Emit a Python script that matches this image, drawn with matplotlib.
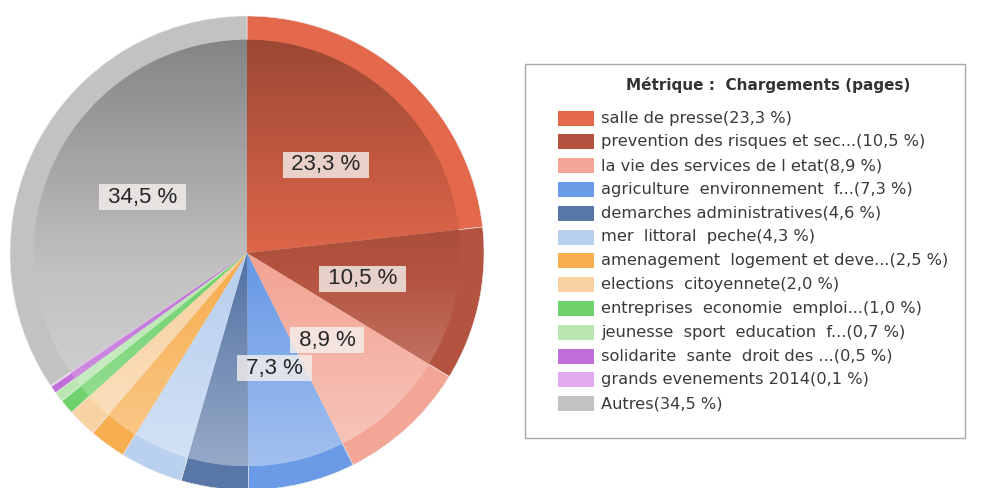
import matplotlib.pyplot as plt
from matplotlib.patches import Rectangle, Circle
import numpy as np

plt.rcParams['font.family'] = ['Liberation Sans', 'DejaVu Sans']

# data
labels = ["salle de presse", "prevention des risques et sec...", "la vie des services de l etat",
          "agriculture  environnement  f...", "demarches administratives", "mer  littoral  peche",
          "amenagement  logement et deve...", "elections  citoyennete", "entreprises  economie  emploi...",
          "jeunesse  sport  education  f...", "solidarite  sante  droit des ...", "grands evenements 2014",
          "Autres"]
values = [23.3, 10.5, 8.9, 7.3, 4.6, 4.3, 2.5, 2.0, 1.0, 0.7, 0.5, 0.1, 34.5]
colors = ["#e4694c", "#b4533f", "#f3a696", "#6b9be6", "#5876a6", "#b9d0ef",
          "#f7ae4f", "#f8d2a2", "#6fd26c", "#b9e6b1", "#c06fd8", "#e2aaef", "#c2c2c2"]
title = "Métrique :  Chargements (pages)"


def pct(v):
    return f"{v:.1f}".replace(".", ",") + " %"


fig = plt.figure(figsize=(9.9, 4.88), dpi=100)
ax = fig.add_axes([0, 0, 1, 1])

cx, cy, r = 247, 488 - 253, 237

# outer rim
ax.pie(values, colors=colors, startangle=90, counterclock=False,
       center=(cx, cy), radius=r, frame=True,
       wedgeprops=dict(edgecolor="#eeeeee", linewidth=0.4))
# inner part
ax.pie(values, colors=colors, startangle=90, counterclock=False,
       center=(cx, cy), radius=r * 0.9, frame=True,
       wedgeprops=dict(edgecolor="none", linewidth=0))

# vertical shading over the inner disc: darker on top, lighter at bottom
n = 256
t = np.linspace(0, 1, n)[:, None]  # 0 = top, 1 = bottom
grad = np.zeros((n, 2, 4))
dark = np.clip(0.32 * (0.55 - t) / 0.55, 0, None)
light = np.clip(0.38 * (t - 0.55) / 0.45, 0, None)
grad[..., :3] = np.where(t < 0.55, 0.0, 1.0)[..., None]
grad[..., 3] = (dark + light)
ri = r * 0.9
im = ax.imshow(grad, extent=(cx - ri, cx + ri, cy - ri, cy + ri), origin='upper',
               aspect='auto', zorder=3, interpolation='bilinear')
im.set_clip_path(Circle((cx, cy), ri, transform=ax.transData))
ax.set_xlim(0, 990)
ax.set_ylim(0, 488)
ax.set_aspect('equal')
ax.axis('off')

# labels inside the big slices
cum = 0.0
total = sum(values)
for v in values:
    mid = cum + v / 2
    cum += v
    if v < 5:
        continue
    ang = np.deg2rad(90 - 360 * mid / total)
    x = cx + 0.5 * r * np.cos(ang)
    y = cy + 0.5 * r * np.sin(ang)
    ax.text(x, y, " " + pct(v) + " ", ha='center', va='center', fontsize=16,
            color="#262626", zorder=5,
            bbox=dict(boxstyle='square,pad=0.12', facecolor='#f4f0ee', edgecolor='none', alpha=0.8))

# legend box
ax.add_patch(Rectangle((525, 488 - 438), 440, 374, facecolor='white', edgecolor='#a8a8a8',
                       linewidth=1, zorder=4))
ax.text(768, 488 - 85, title, ha='center', va='center', fontsize=11, fontweight='bold',
        family=['DejaVu Sans'], color="#333333", zorder=5)
for i, (lab, v, c) in enumerate(zip(labels, values, colors)):
    y = 488 - (118 + i * 23.8)
    ax.add_patch(Rectangle((558, y - 7.5), 36, 15, facecolor=c, edgecolor='none', zorder=5))
    ax.text(601, y, f"{lab}({pct(v)})", ha='left', va='center',
            fontsize=11.7, family=['DejaVu Sans'], color="#3a3a3a", zorder=5)

fig.savefig("out.png", dpi=100)
